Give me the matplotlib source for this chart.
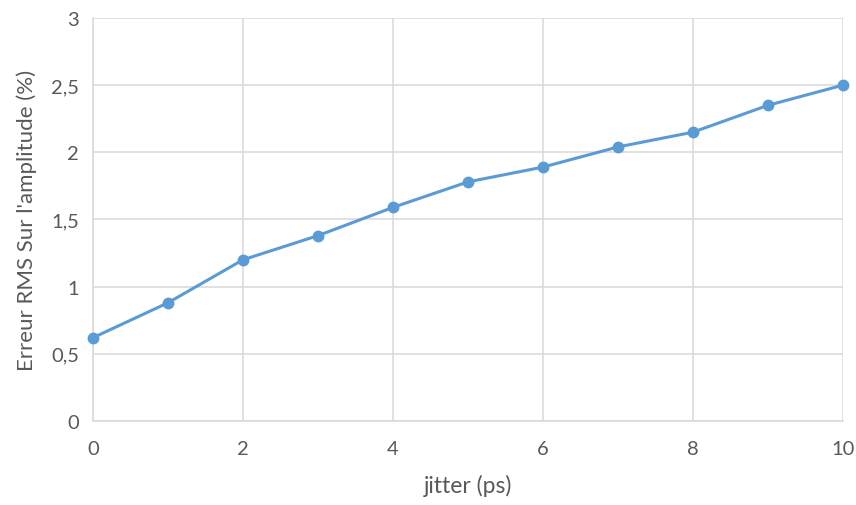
import matplotlib
matplotlib.use("Agg")
import matplotlib.pyplot as plt
from matplotlib.ticker import FuncFormatter

jitter_ps = [0, 1, 2, 3, 4, 5, 6, 7, 8, 9, 10]
erreur_rms = [0.62, 0.88, 1.20, 1.38, 1.59, 1.78, 1.89, 2.04, 2.15, 2.35, 2.50]

text_col = "#595959"
grid_col = "#D9D9D9"
line_col = "#5B9BD5"

plt.rcParams['font.family'] = ['Lato', 'DejaVu Sans']

fig = plt.figure(figsize=(8.56, 5.06), dpi=100)
ax = fig.add_axes([0.1086, 0.166, 0.8762, 0.7965])

ax.plot(jitter_ps, erreur_rms, color=line_col, linewidth=2.2,
        marker='o', markersize=7.5, zorder=3, clip_on=False)

ax.set_xlim(0, 10)
ax.set_ylim(0, 3)
ax.set_xticks(range(0, 11, 2))
ax.set_yticks([0, 0.5, 1, 1.5, 2, 2.5, 3])
ax.yaxis.set_major_formatter(FuncFormatter(lambda v, p: f"{v:g}".replace('.', ',')))

ax.grid(True, color=grid_col, linewidth=1.1)
ax.set_axisbelow(True)
for side in ['top', 'right']:
    ax.spines[side].set_visible(False)
for side in ['left', 'bottom']:
    ax.spines[side].set_color(grid_col)
    ax.spines[side].set_linewidth(1.1)

ax.tick_params(length=0, labelsize=14.5, colors=text_col)
ax.tick_params(axis='x', pad=14)
ax.tick_params(axis='y', pad=10)
ax.set_xlabel("jitter (ps)", fontsize=16.5, color=text_col, labelpad=12)
ax.set_ylabel("Erreur RMS Sur l'amplitude (%)", fontsize=16, color=text_col, labelpad=10)

fig.savefig("out.png", dpi=100)
